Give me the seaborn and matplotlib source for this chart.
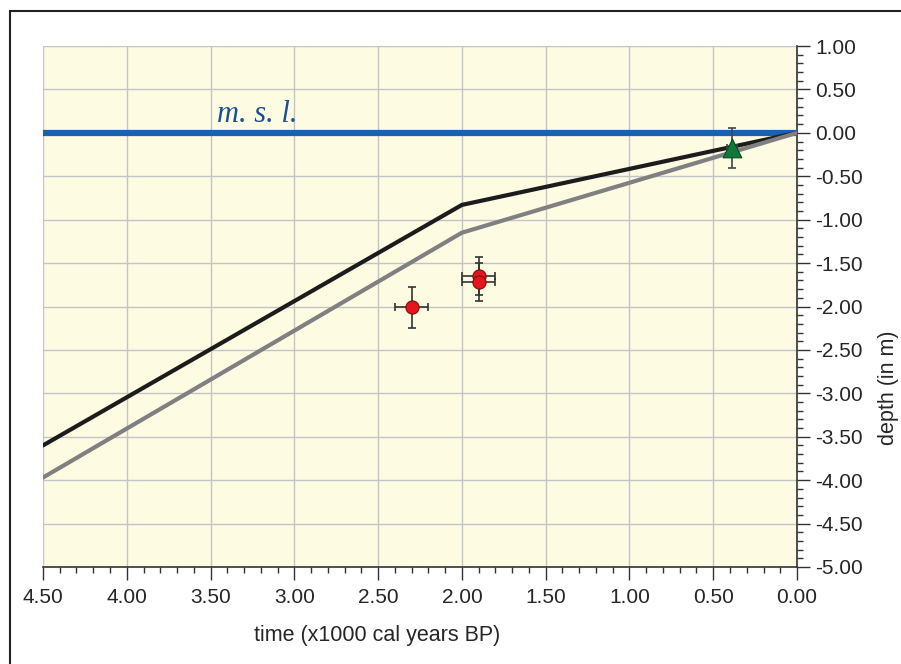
import matplotlib
matplotlib.use('Agg')
import matplotlib.pyplot as plt
import seaborn as sns
import pandas as pd
from matplotlib.ticker import MultipleLocator, FormatStrFormatter
from matplotlib.patches import Rectangle

# sea-level curves (x1000 cal years BP, depth m)
upper_age = [4.5, 2.0, 0.0]
upper_depth = [-3.60, -0.83, 0.0]
lower_age = [4.5, 2.0, 0.0]
lower_depth = [-3.97, -1.15, 0.0]

# dated samples
red_age = [2.30, 1.90, 1.90]
red_depth = [-2.01, -1.65, -1.72]
red_xerr = [0.10, 0.10, 0.10]
red_yerr = [0.24, 0.22, 0.22]

green_age = [0.39]
green_depth = [-0.17]
green_xerr = [0.03]
green_yerr = [0.23]

sns.set_style('white')
plt.rcParams['font.family'] = ['Liberation Sans', 'DejaVu Sans']

fig = plt.figure(figsize=(9.01, 6.64), dpi=100)
ax = fig.add_axes([0.0477, 0.1461, 0.8369, 0.7846])
ax.set_facecolor('#fdfbe2')

# outer frame
fig.patches.append(Rectangle((10 / 901, -0.1), 1.2, 1 - 11 / 664 + 0.1,
                             transform=fig.transFigure, fill=False,
                             edgecolor='#222222', linewidth=1.5))

ax.axhline(0, color='#1464ae', linewidth=4.5, zorder=3)
ax.text(3.22, 0.05, 'm. s. l.', color='#1a4f96', fontsize=22,
        fontstyle='italic', family=['Liberation Serif', 'DejaVu Serif'],
        ha='center', va='bottom')

curves = pd.DataFrame({
    'age': upper_age + lower_age,
    'depth': upper_depth + lower_depth,
    'curve': ['upper'] * 3 + ['lower'] * 3,
})
sns.lineplot(data=curves, x='age', y='depth', hue='curve',
             palette={'upper': '#1c1c1c', 'lower': '#808080'},
             linewidth=3, legend=False, sort=False, estimator=None, ax=ax, zorder=4)

ax.errorbar(red_age, red_depth, xerr=red_xerr, yerr=red_yerr, fmt='none',
            ecolor='#333333', elinewidth=1.2, capsize=3, capthick=1.2, zorder=5)
ax.errorbar(green_age, green_depth, xerr=green_xerr, yerr=green_yerr, fmt='none',
            ecolor='#444444', elinewidth=1.2, capsize=3, capthick=1.2, zorder=5)
sns.scatterplot(x=red_age, y=red_depth, color='#e8141c', edgecolor='#7a1010',
                s=90, linewidth=0.8, ax=ax, zorder=6)
sns.scatterplot(x=green_age, y=green_depth, color='#0e7a3a', edgecolor='#0a4a22',
                marker='^', s=180, linewidth=0.8, ax=ax, zorder=6)

ax.set_xlim(4.5, 0)
ax.set_ylim(-5, 1)
ax.xaxis.set_major_locator(MultipleLocator(0.5))
ax.xaxis.set_minor_locator(MultipleLocator(0.1))
ax.yaxis.set_major_locator(MultipleLocator(0.5))
ax.yaxis.set_minor_locator(MultipleLocator(0.1))
ax.xaxis.set_major_formatter(FormatStrFormatter('%.2f'))
ax.yaxis.set_major_formatter(FormatStrFormatter('%.2f'))
ax.yaxis.tick_right()
ax.yaxis.set_label_position('right')
ax.grid(True, which='major', color='#c4c4c4', linewidth=1)

for s in ['top', 'left']:
    ax.spines[s].set_visible(False)
for s in ['bottom', 'right']:
    ax.spines[s].set_color('#333333')
    ax.spines[s].set_linewidth(1.2)

ax.tick_params(axis='both', which='major', direction='out', length=9, width=1,
               color='#333333', labelsize=15)
ax.tick_params(axis='both', which='minor', direction='out', length=4, width=1,
               color='#333333')
ax.tick_params(axis='x', which='major', pad=6)
ax.tick_params(axis='y', which='major', pad=4)
ax.tick_params(axis='y', which='both', left=False, right=True)
ax.tick_params(axis='x', which='both', bottom=True)

ax.set_xlabel('time (x1000 cal years BP)', fontsize=15.5)
ax.set_ylabel('depth (in m)', fontsize=15.5)
ax.xaxis.set_label_coords(0.443, -0.112)
ax.yaxis.set_label_coords(1.107, 0.344)

fig.savefig('out.png', dpi=100)
